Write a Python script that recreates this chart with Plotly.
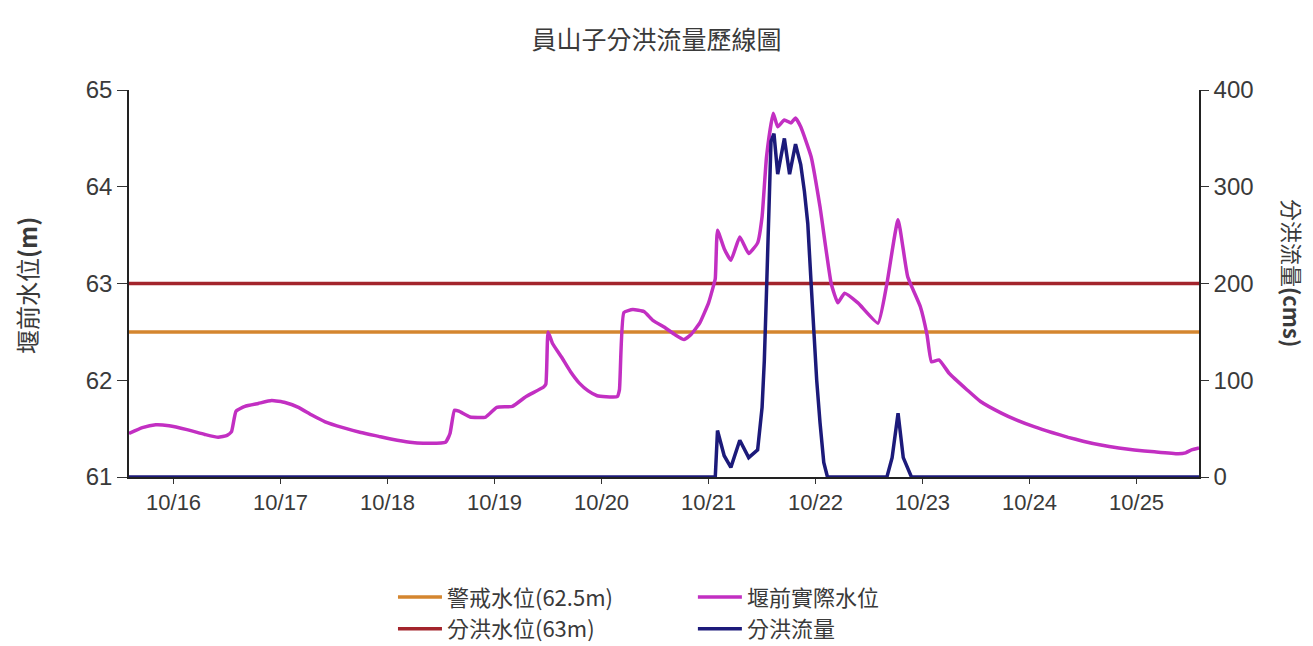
import plotly.graph_objects as go

# 堰前實際水位 (m)
level_time = [
    "2010-10-15 14:00", "2010-10-15 17:00", "2010-10-15 20:00", "2010-10-15 23:00",
    "2010-10-16 03:00", "2010-10-16 07:00", "2010-10-16 10:00", "2010-10-16 12:00",
    "2010-10-16 13:00", "2010-10-16 14:00", "2010-10-16 16:00", "2010-10-16 19:00",
    "2010-10-16 22:00", "2010-10-17 01:00", "2010-10-17 04:00", "2010-10-17 07:00",
    "2010-10-17 10:00", "2010-10-17 14:00", "2010-10-17 18:00", "2010-10-17 22:00",
    "2010-10-18 01:00", "2010-10-18 05:00", "2010-10-18 08:00", "2010-10-18 13:00",
    "2010-10-18 14:00", "2010-10-18 15:00", "2010-10-18 16:00", "2010-10-18 18:30",
    "2010-10-18 22:00", "2010-10-19 00:30", "2010-10-19 04:00", "2010-10-19 07:00",
    "2010-10-19 11:00", "2010-10-19 11:30", "2010-10-19 12:00", "2010-10-19 13:00",
    "2010-10-19 15:00", "2010-10-19 17:00", "2010-10-19 19:00", "2010-10-19 21:00",
    "2010-10-19 23:00", "2010-10-20 01:00", "2010-10-20 03:30", "2010-10-20 04:00",
    "2010-10-20 05:00", "2010-10-20 07:00", "2010-10-20 09:30", "2010-10-20 11:30",
    "2010-10-20 14:00", "2010-10-20 16:30", "2010-10-20 18:30", "2010-10-20 20:00",
    "2010-10-20 22:00", "2010-10-21 00:00", "2010-10-21 01:00", "2010-10-21 01:30",
    "2010-10-21 02:00", "2010-10-21 03:30", "2010-10-21 05:00", "2010-10-21 07:00",
    "2010-10-21 09:00", "2010-10-21 11:00", "2010-10-21 12:00", "2010-10-21 13:00",
    "2010-10-21 14:30", "2010-10-21 15:30", "2010-10-21 17:00", "2010-10-21 18:30",
    "2010-10-21 19:30", "2010-10-21 20:40", "2010-10-21 23:00", "2010-10-22 01:00",
    "2010-10-22 03:30", "2010-10-22 05:00", "2010-10-22 06:30", "2010-10-22 09:30",
    "2010-10-22 14:00", "2010-10-22 16:00", "2010-10-22 18:30", "2010-10-22 20:40",
    "2010-10-22 23:30", "2010-10-23 01:00", "2010-10-23 02:00", "2010-10-23 03:40",
    "2010-10-23 06:00", "2010-10-23 10:00", "2010-10-23 13:00", "2010-10-23 17:40",
    "2010-10-23 21:00", "2010-10-24 01:00", "2010-10-24 05:00", "2010-10-24 08:40",
    "2010-10-24 12:00", "2010-10-24 16:00", "2010-10-24 20:00", "2010-10-24 23:30",
    "2010-10-25 04:00", "2010-10-25 09:20", "2010-10-25 11:00", "2010-10-25 12:20",
    "2010-10-25 14:00",
]
level_m = [
    61.45, 61.51, 61.54, 61.53,
    61.49, 61.44, 61.41, 61.43,
    61.47, 61.68, 61.73, 61.76,
    61.79, 61.77, 61.72, 61.64,
    61.57, 61.51, 61.46, 61.42,
    61.39, 61.36, 61.35, 61.36,
    61.45, 61.69, 61.68, 61.62,
    61.62, 61.72, 61.73, 61.83,
    61.93, 61.96, 62.50, 62.38,
    62.24, 62.09, 61.97, 61.89,
    61.84, 61.83, 61.83, 61.90,
    62.70, 62.73, 62.71, 62.62,
    62.55, 62.47, 62.42, 62.47,
    62.59, 62.80, 62.96, 63.05,
    63.55, 63.36, 63.24, 63.48,
    63.31, 63.42, 63.69, 64.31,
    64.76, 64.62, 64.69, 64.66,
    64.71, 64.62, 64.31, 63.79,
    63.00, 62.80, 62.90, 62.80,
    62.59, 63.00, 63.66, 63.07,
    62.76, 62.47, 62.19, 62.21,
    62.07, 61.90, 61.78, 61.66,
    61.59, 61.52, 61.46, 61.41,
    61.37, 61.33, 61.30, 61.28,
    61.26, 61.24, 61.25, 61.28,
    61.30,
]

# 分洪流量 (cms)
flow_time = [
    "2010-10-15 14:00", "2010-10-21 01:30", "2010-10-21 02:00", "2010-10-21 03:30",
    "2010-10-21 05:00", "2010-10-21 07:00", "2010-10-21 09:00", "2010-10-21 11:00",
    "2010-10-21 12:00", "2010-10-21 12:30", "2010-10-21 13:00", "2010-10-21 13:30",
    "2010-10-21 14:00", "2010-10-21 14:40", "2010-10-21 15:30", "2010-10-21 17:00",
    "2010-10-21 18:10", "2010-10-21 19:30", "2010-10-21 20:40", "2010-10-21 21:30",
    "2010-10-21 22:15", "2010-10-21 23:00", "2010-10-21 23:30", "2010-10-22 00:15",
    "2010-10-22 01:00", "2010-10-22 01:50", "2010-10-22 02:40", "2010-10-22 16:00",
    "2010-10-22 17:10", "2010-10-22 18:30", "2010-10-22 19:40", "2010-10-22 21:30",
    "2010-10-25 14:00",
]
flow_cms = [
    0, 0, 48, 22,
    10, 38, 20, 28,
    72, 120, 193, 280,
    347, 355, 313, 350,
    313, 344, 323, 295,
    262, 200, 159, 100,
    56, 15, 0, 0,
    20, 66, 20, 0,
    0,
]

warning_level = 62.5
diversion_level = 63.0
x_start, x_end = "2010-10-15 14:00", "2010-10-25 14:00"

tick_vals = ["2010-10-%02d" % d for d in range(16, 26)]
tick_text = ["10/%d" % d for d in range(16, 26)]

NUM_FONT = "Liberation Sans, Arial, sans-serif"
CJK_FONT = "Noto Sans CJK TC, sans-serif"
TXT = "#3a3a3a"

fig = go.Figure()

fig.add_trace(go.Scatter(
    x=[x_start, x_end], y=[warning_level, warning_level], mode="lines",
    name="警戒水位(62.5m)", line=dict(color="#d4862f", width=3.5),
    legend="legend",
))
fig.add_trace(go.Scatter(
    x=[x_start, x_end], y=[diversion_level, diversion_level], mode="lines",
    name="分洪水位(63m)", line=dict(color="#a3242c", width=3.5),
    legend="legend",
))
fig.add_trace(go.Scatter(
    x=level_time, y=level_m, mode="lines",
    name="堰前實際水位", line=dict(color="#c22fc2", width=3.5, shape="spline",
                                   smoothing=0.4),
    legend="legend2",
))
fig.add_trace(go.Scatter(
    x=flow_time, y=flow_cms, mode="lines", yaxis="y2",
    name="分洪流量", line=dict(color="#1c1a7a", width=3.5),
    legend="legend2",
))

legend_style = dict(
    xref="paper", yref="container", yanchor="top", xanchor="left",
    orientation="v", traceorder="normal", itemwidth=44,
    font=dict(family=CJK_FONT, size=22, color=TXT),
    bgcolor="rgba(0,0,0,0)",
)

fig.update_layout(
    width=1313, height=646,
    margin=dict(l=129, r=114, t=90, b=169),
    paper_bgcolor="white", plot_bgcolor="white",
    font=dict(family=NUM_FONT, size=22, color=TXT),
    title=dict(text="員山子分洪流量歷線圖", x=0.5, xanchor="center", y=0.938,
               yanchor="middle", font=dict(family=CJK_FONT, size=25, color=TXT)),
    xaxis=dict(
        range=[x_start, x_end], tickvals=tick_vals, ticktext=tick_text,
        showgrid=False, zeroline=False, showline=True, linecolor="#222",
        linewidth=1.5, ticks="outside", ticklen=5, tickcolor="#333",
        tickfont=dict(family=NUM_FONT, size=22, color=TXT),
    ),
    yaxis=dict(
        range=[61, 65], tickvals=[61, 62, 63, 64, 65],
        showgrid=False, zeroline=False, showline=True, linecolor="#222",
        linewidth=1.5, ticks="outside", ticklen=10, tickcolor="#333",
        tickfont=dict(family=NUM_FONT, size=24, color=TXT),
    ),
    yaxis2=dict(
        range=[0, 400], tickvals=[0, 100, 200, 300, 400], overlaying="y",
        side="right", showgrid=False, zeroline=False, showline=True,
        linecolor="#222", linewidth=1.5, ticks="outside", ticklen=8,
        tickcolor="#333", tickfont=dict(family=NUM_FONT, size=24, color=TXT),
    ),
    legend=dict(x=0.2467, y=0.108, **legend_style),
    legend2=dict(x=0.527, y=0.108, **legend_style),
    annotations=[
        dict(text="堰前水位<b>(m)</b>", xref="paper", yref="paper",
             x=-0.0963, y=0.496, xanchor="center", yanchor="middle",
             textangle=-90, showarrow=False,
             font=dict(family=CJK_FONT, size=24, color=TXT)),
        dict(text="分洪流量<b>(cms)</b>", xref="paper", yref="paper",
             x=1.088, y=0.527, xanchor="center", yanchor="middle",
             textangle=90, showarrow=False,
             font=dict(family=CJK_FONT, size=22, color=TXT)),
    ],
)

fig.write_html("out.html")
